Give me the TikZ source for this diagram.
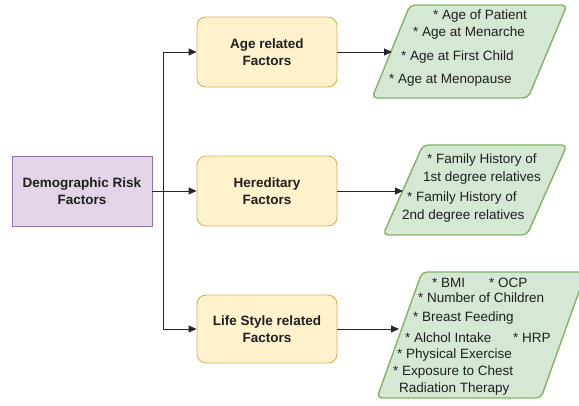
\documentclass[tikz,border=0pt]{standalone}
\usepackage{fontspec}
\setmainfont{Liberation Sans}
\usetikzlibrary{arrows.meta,calc}
\definecolor{purplefill}{HTML}{E1D5E7}
\definecolor{purpleline}{HTML}{9673A6}
\definecolor{yellowfill}{HTML}{FFF2CC}
\definecolor{yellowline}{HTML}{D6B656}
\definecolor{greenfill}{HTML}{D5E8D4}
\definecolor{greenline}{HTML}{82B366}
\definecolor{txt}{HTML}{1F1F1F}
\definecolor{conn}{HTML}{262626}
\begin{document}
\begin{tikzpicture}[x=1pt,y=-1pt,
  every node/.style={text=txt,font=\fontsize{13.5}{17}\selectfont},
  rootbox/.style={draw=purpleline,fill=purplefill,line width=0.9pt,minimum width=140pt,minimum height=70pt,align=center,inner sep=0pt,font=\fontsize{13.5}{17}\selectfont\bfseries},
  catbox/.style={draw=yellowline,fill=yellowfill,line width=0.9pt,rounded corners=9pt,minimum width=140pt,align=center,inner sep=0pt,font=\fontsize{13.5}{17}\selectfont\bfseries},
  para/.style={draw=greenline,fill=greenfill,line width=1.4pt,rounded corners=5pt},
  item/.style={anchor=west,inner sep=0pt},
  arr/.style={draw=conn,line width=0.9pt,-{Triangle[length=8pt,width=7pt]}}
]
\useasboundingbox (0,0) rectangle (579,405);

% nodes
\node[rootbox] (demo) at (82,191) {Demographic Risk\\Factors};
\node[catbox,minimum height=70pt] (age) at (267,52) {Age related\\Factors};
\node[catbox,minimum height=70pt] (hered) at (267,191) {Hereditary\\Factors};
\node[catbox,minimum height=68pt] (life) at (267,329) {Life Style related\\Factors};

% parallelograms
\draw[para] (410,5) -- (567,5) -- (528,98) -- (372,98) -- cycle;
\coordinate (p1) at (392,52);
\draw[para] (423,145) -- (567,145) -- (527,235) -- (383,235) -- cycle;
\coordinate (p2) at (403,191);
\draw[para] (422,272) -- (586,272) -- (541,398) -- (377,398) -- cycle;
\coordinate (p3) at (399,329);

% texts
\node[item] (a1) at (433,16) {* Age of Patient};
\node[item] (a2) at (413,33) {* Age at Menarche};
\node[item] (a3) at (401,57) {* Age at First Child};
\node[item] (a4) at (389,80) {* Age at Menopause};

\node[item] (h1) at (427,160) {* Family History of};
\node[item] (h2) at (423,178) {1st degree relatives};
\node[item] (h3) at (407,198) {* Family History of};
\node[item] (h4) at (402,216) {2nd degree relatives};

\node[item] (l1) at (432,283) {* BMI};
\node[item] (l1b) at (489,283) {* OCP};
\node[item] (l2) at (418,298) {* Number of Children};
\node[item] (l3) at (413,318) {* Breast Feeding};
\node[item] (l4) at (405,338) {* Alchol Intake};
\node[item] (l4b) at (513,338) {* HRP};
\node[item] (l5) at (397,355) {* Physical Exercise};
\node[item] (l6) at (393,372) {* Exposure to Chest};
\node[item] (l7) at (399,389) {Radiation Therapy};

% connectors
\draw[arr] (demo.east) -- ++(11,0) |- (age.west);
\draw[arr] (demo.east) -- (hered.west);
\draw[arr] (demo.east) -- ++(11,0) |- (life.west);
\draw[arr] (age.east) -- (p1);
\draw[arr] (hered.east) -- (p2);
\draw[arr] (life.east) -- (p3);
\end{tikzpicture}
\end{document}
